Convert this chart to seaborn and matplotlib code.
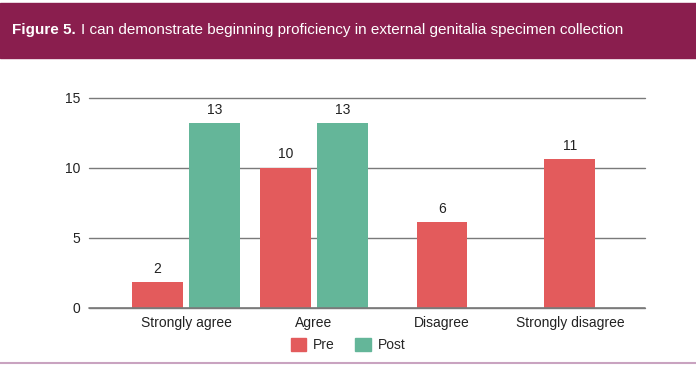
import pandas as pd
import matplotlib.pyplot as plt
import seaborn as sns
from matplotlib.patches import Rectangle, Patch

# Data
categories = ['Strongly agree', 'Agree', 'Disagree', 'Strongly disagree']
pre_heights = [1.8, 10.0, 6.1, 10.6]
post_heights = [13.2, 13.2, None, None]
pre_labels = ['2', '10', '6', '11']
post_labels = ['13', '13', '', '']
groups = ['Pre', 'Post']
colors = {'Pre': '#E35B5C', 'Post': '#64B699'}

df = pd.DataFrame({
    'category': categories * 2,
    'group': ['Pre'] * 4 + ['Post'] * 4,
    'value': pre_heights + post_heights,
    'label': pre_labels + post_labels,
})

sns.set_style('white')
plt.rcParams['font.family'] = ['Liberation Sans', 'DejaVu Sans']

fig = plt.figure(figsize=(6.96, 3.68), dpi=100)

# Title band
fig.patches.append(Rectangle((0, 0.842), 1, 0.150, transform=fig.transFigure,
                             color='#8A1E4E', zorder=0))
fig.text(0.017, 0.918, 'Figure 5.', color='white', fontsize=11,
         fontweight='bold', va='center', ha='left')
fig.text(0.116, 0.918, 'I can demonstrate beginning proficiency in external genitalia specimen collection',
         color='white', fontsize=11, va='center', ha='left')
# bottom rule
fig.add_artist(plt.Line2D([0, 1], [0.014, 0.014], transform=fig.transFigure,
                          color='#C9A3C0', lw=1.5))

ax = fig.add_axes([0.1279, 0.1639, 0.7988, 0.5706])
sns.barplot(data=df, x='category', y='value', hue='group', order=categories,
            hue_order=groups, palette=colors, width=0.895, gap=0.11,
            saturation=1, linewidth=0, dodge=True, legend=False, ax=ax, zorder=3)

# center single bars where there is no Post value
for patch, cat, grp in zip(ax.patches, df['category'], df['group']):
    i = categories.index(cat)
    if grp == 'Pre' and post_heights[i] is None:
        patch.set_x(i - patch.get_width() / 2)

for patch, lab in zip(ax.patches, df['label']):
    if lab and patch.get_height() == patch.get_height():
        ax.text(patch.get_x() + patch.get_width() / 2, patch.get_height() + 0.45,
                lab, ha='center', va='bottom', fontsize=10, color='#222222')

ax.set_xlim(-0.758, 3.586)
ax.set_ylim(0, 15)
ax.set_yticks([0, 5, 10, 15])
ax.set_xlabel('')
ax.set_ylabel('')
for s in ['top', 'right', 'left', 'bottom']:
    ax.spines[s].set_visible(False)
ax.yaxis.grid(True, color='#7A7A7A', lw=1.0)
for gl in ax.get_ygridlines():
    gl.set_clip_on(False)
ax.axhline(0, color='#7A7A7A', lw=1.2, clip_on=False, zorder=4)
ax.set_axisbelow(True)
ax.tick_params(axis='both', length=0, labelsize=10, colors='#222222')
ax.tick_params(axis='y', pad=6)
ax.tick_params(axis='x', pad=6)

handles = [Patch(color=colors[g], label=g) for g in groups]
fig.legend(handles=handles, loc='center', bbox_to_anchor=(0.5, 0.063), ncol=2,
           frameon=False, fontsize=10, handlelength=1.1, handleheight=1.1,
           columnspacing=1.5, handletextpad=0.5)

fig.savefig('out.png', dpi=100, facecolor='white')
